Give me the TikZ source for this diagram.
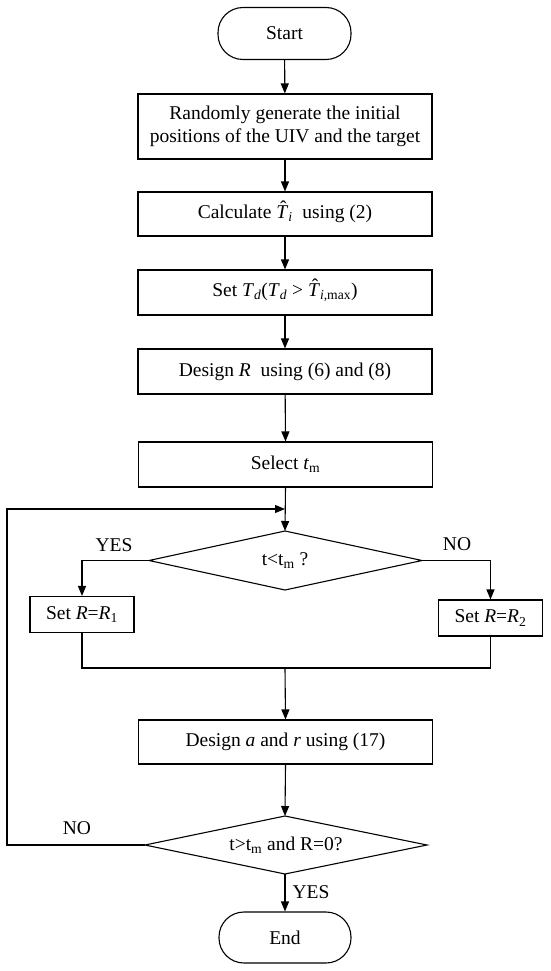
\documentclass[tikz,border=0pt]{standalone}
\usepackage{fontspec}
\setmainfont{Liberation Serif}
\usetikzlibrary{arrows.meta}
\newcommand\myfs{\fontsize{19.5}{23.5}\selectfont}
\newcommand\hatT{{\ooalign{\textit{T}\cr\hidewidth\kern0.12em\raisebox{0.22em}{\char"02C6}\hidewidth\cr}}}
\begin{document}
\begin{tikzpicture}[x=1pt,y=-1pt,line width=1.1pt,
  proc/.style={draw,rectangle,inner sep=0pt,minimum width=294pt,minimum height=45pt,align=center,font=\myfs},
  small/.style={draw,rectangle,inner sep=0pt,minimum width=104pt,minimum height=36pt,font=\myfs},
  term/.style={draw,rectangle,rounded corners=25pt,inner sep=0pt,minimum width=133pt,minimum height=52pt,font=\myfs},
  lbl/.style={inner sep=0pt,font=\myfs},
  arr/.style={-{Triangle[length=10pt,width=8pt]}}]
\useasboundingbox (0,0) rectangle (550,971);

\node[term] (start) at (284.5,33.5) {Start};
\node[proc,minimum height=65pt] (b1) at (285,126.5) {Randomly generate the initial\\positions of the UIV and the target};
\node[proc,minimum height=44pt] (b2) at (285,214) {Calculate \hatT\textsubscript{\textit{i}}\ \ using (2)};
\node[proc] (b3) at (285,292.5) {Set \textit{T}\textsubscript{\textit{d}}(\textit{T}\textsubscript{\textit{d}} > \hatT\textsubscript{\textit{i},max})};
\node[proc] (b4) at (285,371.5) {Design \textit{R}\ \ using (6) and (8)};
\node[proc] (b5) at (285.5,464.5) {Select \textit{t}\textsubscript{m}};

% decision 1
\coordinate (d1t) at (285,531);
\coordinate (d1b) at (285,590);
\coordinate (d1l) at (149,560.5);
\coordinate (d1r) at (422,560.5);
\draw (d1t) -- (d1r) -- (d1b) -- (d1l) -- cycle;
\node[lbl] (d1) at (285,560.5) {t<t\textsubscript{m} ?};

\node[small] (r1) at (82,614.5) {Set \textit{R}=\textit{R}\textsubscript{1}};
\node[small] (r2) at (490.5,618) {Set \textit{R}=\textit{R}\textsubscript{2}};

\coordinate (m) at (285,668);
\node[proc,minimum height=44pt] (b6) at (285.5,742) {Design \textit{a} and \textit{r} using (17)};

% decision 2
\coordinate (d2t) at (285,816);
\coordinate (d2b) at (285,874);
\coordinate (d2l) at (145,845);
\coordinate (d2r) at (427,845);
\draw (d2t) -- (d2r) -- (d2b) -- (d2l) -- cycle;
\node[lbl] (d2) at (286,845) {t>t\textsubscript{m} and R=0?};

\node[term,minimum width=132pt,minimum height=51pt] (end) at (285,937.5) {End};

\coordinate (lp) at (285,509);
\coordinate (c2) at (7,509);

% connectors
\draw[arr] (start) -- (b1);
\draw[arr] (b1) -- (b2);
\draw[arr] (b2) -- (b3);
\draw[arr] (b3) -- (b4);
\draw[arr] (b4) -- (b5.north);
\draw[arr] (b5.south) -- (d1t);
\draw[arr] (d1l) -| (r1.north);
\draw[arr] (d1r) -| (r2.north);
\draw (r1.south) |- (m) -| (r2.south);
\draw[arr] (m) -- (b6.north);
\draw[arr] (b6.south) -- (d2t);
\draw[arr] (d2l) -| (c2) -- (lp);
\draw[arr] (d2b) -- (end.north);

% labels
\node[lbl] (yes1) at (114,545) {YES};
\node[lbl] (no1) at (457,544) {NO};
\node[lbl] (no2) at (77,828) {NO};
\node[lbl] (yes2) at (311,892) {YES};
\end{tikzpicture}
\end{document}
